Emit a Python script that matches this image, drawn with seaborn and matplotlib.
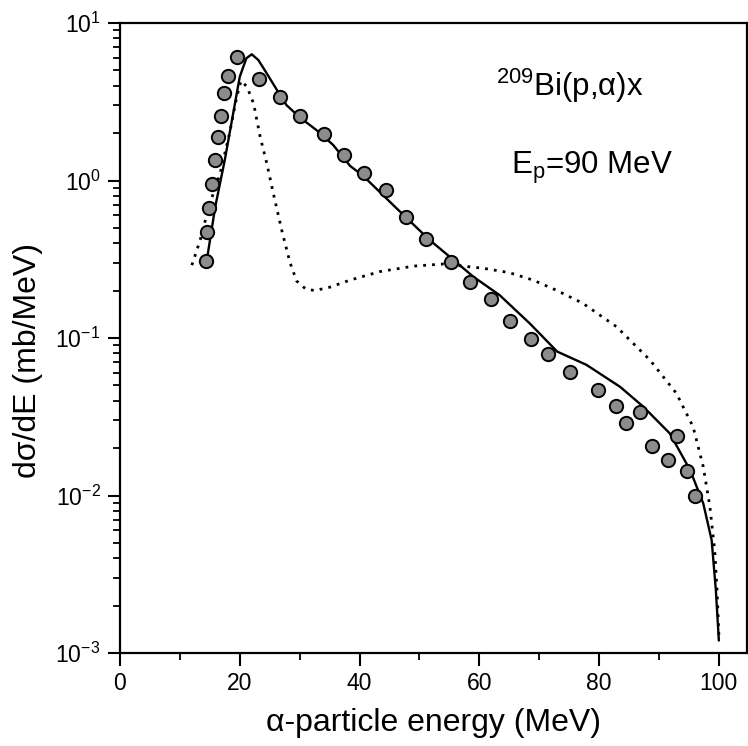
import matplotlib
matplotlib.use("Agg")
import matplotlib.pyplot as plt
import matplotlib.ticker as mticker
import seaborn as sns
import numpy as np
import pandas as pd

# Experimental points
exp_E = [14.4, 14.5, 14.9, 15.3, 15.8, 16.3, 16.8, 17.4, 18.0, 19.6, 23.2, 26.7,
         30.0, 34.1, 37.4, 40.7, 44.5, 47.7, 51.1, 55.3, 58.4, 61.9, 65.1, 68.6,
         71.5, 75.2, 79.8, 82.8, 84.5, 86.9, 88.9, 91.5, 93.0, 94.6, 96.0]
exp_Y = [0.31, 0.47, 0.67, 0.95, 1.35, 1.88, 2.58, 3.57, 4.63, 6.1, 4.41, 3.39,
         2.57, 1.96, 1.45, 1.12, 0.87, 0.584, 0.425, 0.305, 0.228, 0.176, 0.129, 0.098,
         0.079, 0.061, 0.0466, 0.037, 0.029, 0.0337, 0.0205, 0.0167, 0.024, 0.0143, 0.0099]

# Solid calculation
solid_E = [14.6, 15.9, 17.5, 18.9, 20.0, 21.1, 22.0, 23.1, 24.5, 26.2, 27.8, 30.0,
           32.8, 35.6, 38.4, 40.6, 46.2, 51.7, 55.4, 59.0, 63.4, 68.4, 73.0, 77.9,
           83.5, 87.4, 91.8, 95.2, 97.4, 98.8, 99.5, 100.0]
solid_Y = [0.33, 0.68, 1.35, 2.67, 4.56, 5.97, 6.33, 5.82, 4.79, 3.76, 3.01, 2.52,
           2.09, 1.68, 1.24, 1.07, 0.665, 0.419, 0.32, 0.245, 0.187, 0.124, 0.082, 0.0675,
           0.049, 0.0366, 0.0248, 0.0145, 0.0089, 0.0052, 0.0025, 0.0012]

# Dotted calculation
dot_E = [12.0, 13.4, 14.2, 15.3, 16.7, 18.3, 19.5, 20.2, 21.2, 22.3, 23.4, 24.5,
         25.6, 27.0, 28.4, 29.5, 31.0, 32.5, 35.0, 38.4, 43.4, 49.0, 54.0, 60.7,
         65.0, 69.0, 73.0, 77.3, 82.9, 88.5, 92.9, 95.7, 97.4, 98.5, 99.3, 99.7, 100.0]
dot_Y = [0.29, 0.42, 0.55, 0.77, 1.1, 2.0, 3.4, 4.3, 3.94, 3.09, 1.90, 1.29,
         0.83, 0.485, 0.30, 0.23, 0.205, 0.2, 0.21, 0.233, 0.264, 0.286, 0.295, 0.277,
         0.26, 0.233, 0.20, 0.166, 0.118, 0.0724, 0.0446, 0.0273, 0.0152, 0.0085, 0.0045, 0.0025, 0.0013]

x_ticks = [0, 20, 40, 60, 80, 100]

sns.set_style("ticks")
plt.rcParams['font.family'] = ['Liberation Sans', 'DejaVu Sans']
plt.rcParams['mathtext.fontset'] = 'custom'
plt.rcParams['mathtext.rm'] = 'Liberation Sans'
plt.rcParams['mathtext.it'] = 'Liberation Sans'
plt.rcParams['text.color'] = 'black'
plt.rcParams['axes.labelcolor'] = 'black'
plt.rcParams['xtick.color'] = 'black'
plt.rcParams['ytick.color'] = 'black'
plt.rcParams['axes.edgecolor'] = 'black'

fig = plt.figure(figsize=(7.48, 7.46), dpi=100)
W, H = 748, 746
ax = fig.add_axes([120 / W, (H - 653) / H, 627 / W, 630 / H])

df_dot = pd.DataFrame({"E": dot_E, "Y": dot_Y})
df_sol = pd.DataFrame({"E": solid_E, "Y": solid_Y})
df_exp = pd.DataFrame({"E": exp_E, "Y": exp_Y})

sns.lineplot(data=df_dot, x="E", y="Y", ax=ax, color="black", lw=2.0,
             linestyle=(0, (1, 2.2)), sort=False, estimator=None)
sns.lineplot(data=df_sol, x="E", y="Y", ax=ax, color="black", lw=1.7,
             sort=False, estimator=None)
sns.scatterplot(data=df_exp, x="E", y="Y", ax=ax, color="#8c8c8c", edgecolor="black",
                linewidth=1.4, s=92, zorder=5)

ax.set_yscale("log")
ax.set_ylim(1e-3, 10)
ax.set_xlim(0, 104.7)
ax.set_xticks(x_ticks)
ax.xaxis.set_minor_locator(mticker.MultipleLocator(10))
ax.yaxis.set_major_locator(mticker.LogLocator(base=10, numticks=10))
ax.yaxis.set_minor_locator(mticker.LogLocator(base=10, subs=np.arange(2, 10), numticks=20))
ax.yaxis.set_minor_formatter(mticker.NullFormatter())

ax.tick_params(which="major", direction="out", length=9, width=1.5, labelsize=16.5,
               pad=5)
ax.tick_params(which="minor", direction="out", length=5, width=1.3)
for s in ax.spines.values():
    s.set_linewidth(1.6)

ax.set_xlabel("α-particle energy (MeV)", fontsize=23, labelpad=9)
ax.set_ylabel("dσ/dE (mb/MeV)", fontsize=23)
ax.yaxis.set_label_coords(-0.123, 0.465)

ax.text(0.600, 0.900, r"$^{209}$Bi(p,α)x", transform=ax.transAxes, fontsize=22.5,
        ha="left", va="center")
ax.text(0.624, 0.770, r"E$_\mathrm{p}$=90 MeV", transform=ax.transAxes, fontsize=22.5,
        ha="left", va="center")

fig.savefig("out.png", dpi=100)
